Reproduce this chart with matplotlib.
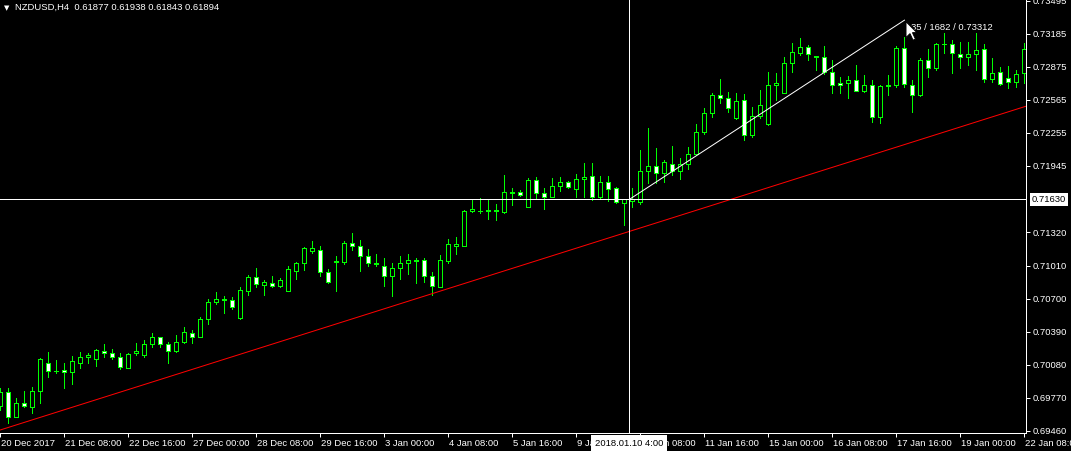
import matplotlib
matplotlib.use('Agg')
import matplotlib.pyplot as plt
import matplotlib.transforms as mtransforms
from matplotlib.patches import Rectangle, Polygon

plt.rcParams['font.family'] = ['Liberation Sans', 'DejaVu Sans']

# NZDUSD H4 candles, 20 Dec 2017 .. 22 Jan 2018
opens = [0.69693, 0.69821, 0.69592, 0.69718, 0.69686, 0.69831, 0.70099, 0.70018, 0.70030, 0.70009,
         0.70099, 0.70155, 0.70131, 0.70211, 0.70187, 0.70149, 0.70052, 0.70187, 0.70174, 0.70272,
         0.70337, 0.70274, 0.70209, 0.70293, 0.70375, 0.70337, 0.70506, 0.70665, 0.70684, 0.70684,
         0.70515, 0.70774, 0.70900, 0.70828, 0.70849, 0.70818, 0.70774, 0.70962, 0.71031, 0.71149,
         0.71153, 0.70950, 0.71040, 0.71040, 0.71217, 0.71189, 0.71095, 0.71025, 0.71003, 0.70909,
         0.70984, 0.71033, 0.71058, 0.71060, 0.70912, 0.70806, 0.71056, 0.71189, 0.71189, 0.71519,
         0.71519, 0.71525, 0.71523, 0.71515, 0.71695, 0.71697, 0.71557, 0.71810, 0.71688, 0.71656,
         0.71754, 0.71791, 0.71725, 0.71819, 0.71850, 0.71656, 0.71791, 0.71735, 0.71594, 0.71616,
         0.71609, 0.71895, 0.71941, 0.71879, 0.71962, 0.71900, 0.71962, 0.72056, 0.72260, 0.72438,
         0.72610, 0.72579, 0.72398, 0.72563, 0.72235, 0.72413, 0.72338, 0.72701, 0.72632, 0.72907,
         0.73007, 0.73057, 0.72971, 0.72969, 0.72823, 0.72720, 0.72720, 0.72751, 0.72647, 0.72701,
         0.72401, 0.72692, 0.72701, 0.73048, 0.72701, 0.72610, 0.72938, 0.72860, 0.73085, 0.73088,
         0.72994, 0.72969, 0.72994, 0.73039, 0.72757, 0.72823, 0.72767, 0.72729, 0.72813]
highs = [0.69862, 0.69859, 0.69768, 0.69833, 0.69868, 0.70140, 0.70199, 0.70124, 0.70093, 0.70162,
         0.70196, 0.70193, 0.70225, 0.70274, 0.70225, 0.70187, 0.70190, 0.70281, 0.70312, 0.70375,
         0.70343, 0.70290, 0.70359, 0.70437, 0.70406, 0.70530, 0.70696, 0.70762, 0.70725, 0.70712,
         0.70806, 0.70919, 0.70984, 0.70875, 0.70912, 0.70891, 0.71006, 0.71046, 0.71181, 0.71240,
         0.71193, 0.70978, 0.71096, 0.71240, 0.71315, 0.71250, 0.71165, 0.71118, 0.71081, 0.71031,
         0.71102, 0.71118, 0.71081, 0.71081, 0.70946, 0.71110, 0.71259, 0.71280, 0.71531, 0.71625,
         0.71641, 0.71625, 0.71585, 0.71860, 0.71740, 0.71719, 0.71829, 0.71844, 0.71740, 0.71834,
         0.71844, 0.71801, 0.71869, 0.71969, 0.71969, 0.71850, 0.71850, 0.71750, 0.71634, 0.71735,
         0.72094, 0.72298, 0.72110, 0.72000, 0.72132, 0.72016, 0.72122, 0.72338, 0.72485, 0.72626,
         0.72760, 0.72635, 0.72626, 0.72619, 0.72495, 0.72657, 0.72828, 0.72819, 0.72969, 0.73095,
         0.73147, 0.73079, 0.72979, 0.73070, 0.72938, 0.72776, 0.72788, 0.72891, 0.72798, 0.72751,
         0.72704, 0.72798, 0.73072, 0.73151, 0.72751, 0.72957, 0.73041, 0.73098, 0.73194, 0.73126,
         0.73110, 0.73110, 0.73194, 0.73085, 0.72954, 0.72875, 0.72882, 0.72844, 0.73095]
lows = [0.69655, 0.69536, 0.69589, 0.69683, 0.69630, 0.69724, 0.69962, 0.69999, 0.69864, 0.69896,
        0.70052, 0.70093, 0.70071, 0.70155, 0.70131, 0.70037, 0.70049, 0.70174, 0.70149, 0.70249,
        0.70249, 0.70099, 0.70196, 0.70287, 0.70287, 0.70337, 0.70462, 0.70649, 0.70562, 0.70603,
        0.70512, 0.70734, 0.70806, 0.70734, 0.70806, 0.70806, 0.70774, 0.70884, 0.70969, 0.71125,
        0.70909, 0.70844, 0.70774, 0.71027, 0.71156, 0.70962, 0.71003, 0.71009, 0.70821, 0.70728,
        0.70884, 0.70931, 0.70849, 0.70853, 0.70731, 0.70806, 0.71037, 0.71118, 0.71189, 0.71509,
        0.71500, 0.71447, 0.71437, 0.71506, 0.71578, 0.71667, 0.71557, 0.71647, 0.71541, 0.71650,
        0.71712, 0.71738, 0.71650, 0.71656, 0.71625, 0.71641, 0.71618, 0.71594, 0.71390, 0.71559,
        0.71587, 0.71781, 0.71781, 0.71797, 0.71860, 0.71819, 0.71916, 0.72050, 0.72244, 0.72406,
        0.72532, 0.72450, 0.72385, 0.72188, 0.72216, 0.72394, 0.72328, 0.72563, 0.72629, 0.72828,
        0.72985, 0.72938, 0.72844, 0.72807, 0.72632, 0.72632, 0.72579, 0.72647, 0.72638, 0.72359,
        0.72344, 0.72610, 0.72685, 0.72682, 0.72448, 0.72601, 0.72776, 0.72844, 0.73001, 0.72819,
        0.72866, 0.72891, 0.72844, 0.72735, 0.72735, 0.72704, 0.72673, 0.72682, 0.72725]
closes = [0.69827, 0.69592, 0.69718, 0.69693, 0.69831, 0.70131, 0.70021, 0.70024, 0.70009, 0.70112,
          0.70149, 0.70174, 0.70218, 0.70187, 0.70149, 0.70055, 0.70180, 0.70206, 0.70272, 0.70337,
          0.70272, 0.70211, 0.70296, 0.70390, 0.70337, 0.70506, 0.70665, 0.70694, 0.70694, 0.70619,
          0.70778, 0.70900, 0.70834, 0.70856, 0.70821, 0.70875, 0.70975, 0.71034, 0.71172, 0.71172,
          0.70947, 0.70853, 0.71049, 0.71217, 0.71189, 0.71095, 0.71033, 0.71030, 0.70912, 0.70984,
          0.71031, 0.71060, 0.71053, 0.70909, 0.70818, 0.71060, 0.71208, 0.71208, 0.71522, 0.71541,
          0.71525, 0.71527, 0.71527, 0.71697, 0.71698, 0.71672, 0.71810, 0.71688, 0.71656, 0.71754,
          0.71791, 0.71744, 0.71819, 0.71838, 0.71656, 0.71794, 0.71725, 0.71603, 0.71632, 0.71636,
          0.71895, 0.71948, 0.71879, 0.71981, 0.71900, 0.71962, 0.72056, 0.72260, 0.72438, 0.72610,
          0.72579, 0.72485, 0.72554, 0.72235, 0.72413, 0.72513, 0.72701, 0.72725, 0.72907, 0.73010,
          0.73057, 0.72992, 0.72966, 0.72823, 0.72704, 0.72701, 0.72751, 0.72650, 0.72701, 0.72401,
          0.72694, 0.72701, 0.73048, 0.72710, 0.72610, 0.72938, 0.72860, 0.73088, 0.73091, 0.73001,
          0.72963, 0.72994, 0.73032, 0.72757, 0.72813, 0.72713, 0.72729, 0.72807, 0.73039]

x_labels = ['20 Dec 2017', '21 Dec 08:00', '22 Dec 16:00', '27 Dec 00:00', '28 Dec 08:00',
            '29 Dec 16:00', '3 Jan 00:00', '4 Jan 08:00', '5 Jan 16:00', '9 Jan 00:00',
            '10 Jan 08:00', '11 Jan 16:00', '15 Jan 00:00', '16 Jan 08:00', '17 Jan 16:00',
            '19 Jan 00:00', '22 Jan 08:00']
y_ticks = [0.69460, 0.69770, 0.70080, 0.70390, 0.70700, 0.71010, 0.71320,
           0.71945, 0.72255, 0.72565, 0.72875, 0.73185, 0.73495]

header = 'NZDUSD,H4  0.61877 0.61938 0.61843 0.61894'
trend_bars = [0, 128]
trend_prices = [0.69468, 0.72500]
cross_bar = 78.6
cross_price = 0.71630
cross_time = '2018.01.10 4:00'
measure_bar = 113.0
measure_price = 0.73312
measure_text = '35 / 1682 / 0.73312'

W, H = 1071, 451
px = 0.72  # one pixel in points
lime = '#00ff00'

fig = plt.figure(figsize=(W / 100, H / 100), dpi=100, facecolor='black')
ax = fig.add_axes([0, 18 / H, 1026 / W, 433 / H])
ax.set_facecolor('black')

for i in range(len(opens)):
    o, h, l, c = opens[i], highs[i], lows[i], closes[i]
    ax.vlines(i, l, h, color=lime, lw=px, zorder=2, antialiased=False)
    bull = c >= o
    ax.add_patch(Rectangle((i - 0.25, min(o, c)), 0.5, max(abs(c - o), 0.00002),
                           facecolor='black' if bull else 'white', edgecolor=lime,
                           lw=px, zorder=3, antialiased=False))

# trend line and crosshair
ax.axline((trend_bars[0], trend_prices[0]), (trend_bars[1], trend_prices[1]),
          color='red', lw=px, zorder=4)
ax.axhline(cross_price, color='white', lw=px, zorder=5)
ax.axvline(cross_bar, color='white', lw=px, zorder=5)
ax.plot([cross_bar, measure_bar], [cross_price, measure_price], color='white', lw=px, zorder=5)
ax.annotate(measure_text, xy=(measure_bar, measure_price), xytext=(7, -7),
            textcoords='offset pixels', color='white', fontsize=6.8, va='center', zorder=6)

ax.set_xlim(-0.06, 128.19)
ax.set_ylim(0.69439, 0.73501)

for side in ['left', 'top']:
    ax.spines[side].set_visible(False)
for side in ['right', 'bottom']:
    ax.spines[side].set_color('white')
    ax.spines[side].set_linewidth(px)

ax.yaxis.tick_right()
ax.set_yticks(y_ticks)
ax.set_yticklabels(['%.5f' % v for v in y_ticks])
ax.set_xticks(range(0, 8 * len(x_labels), 8))
ax.set_xticklabels(x_labels)
ax.tick_params(axis='y', colors='white', length=3, width=px, pad=2, labelsize=6.8)
ax.tick_params(axis='x', colors='white', length=3, width=px, pad=1.5, labelsize=6.8)
shift = mtransforms.ScaledTranslation(1 / 100, 0, fig.dpi_scale_trans)
for lbl in ax.get_xticklabels():
    lbl.set_horizontalalignment('left')
    lbl.set_transform(lbl.get_transform() + shift)

# crosshair labels
ax.annotate('%.5f' % cross_price, xy=(1, cross_price), xycoords=('axes fraction', 'data'),
            xytext=(6, 0), textcoords='offset pixels', ha='left', va='center',
            color='black', fontsize=6.8, annotation_clip=False, zorder=10,
            bbox=dict(boxstyle='square,pad=0.2', fc='white', ec='none'))
ax.annotate(cross_time, xy=(cross_bar, 0), xycoords=('data', 'axes fraction'),
            xytext=(0, -10), textcoords='offset pixels', ha='center', va='center',
            color='black', fontsize=6.8, annotation_clip=False, zorder=10,
            bbox=dict(boxstyle='square,pad=0.4', fc='white', ec='none'))

# mouse cursor at the end of the measuring line
tx, ty = ax.transData.transform((measure_bar, measure_price))
arrow = [(0, 0), (0, -16), (4, -12), (7, -18.5), (9.5, -17.5), (6.5, -11), (11, -11)]
fig.add_artist(Polygon([(tx + 1.5 + a, ty - 1.5 + b) for a, b in arrow], closed=True,
                       facecolor='white', edgecolor='black', lw=px,
                       transform=mtransforms.IdentityTransform(), zorder=20))

fig.text(4 / W, 1 - 8 / H, '\u25bc', color='white', fontsize=5, va='center',
         family=['DejaVu Sans'])
fig.text(15 / W, 1 - 7 / H, header, color='white', fontsize=6.8, va='center')

fig.savefig('out.png', dpi=100, facecolor='black')
